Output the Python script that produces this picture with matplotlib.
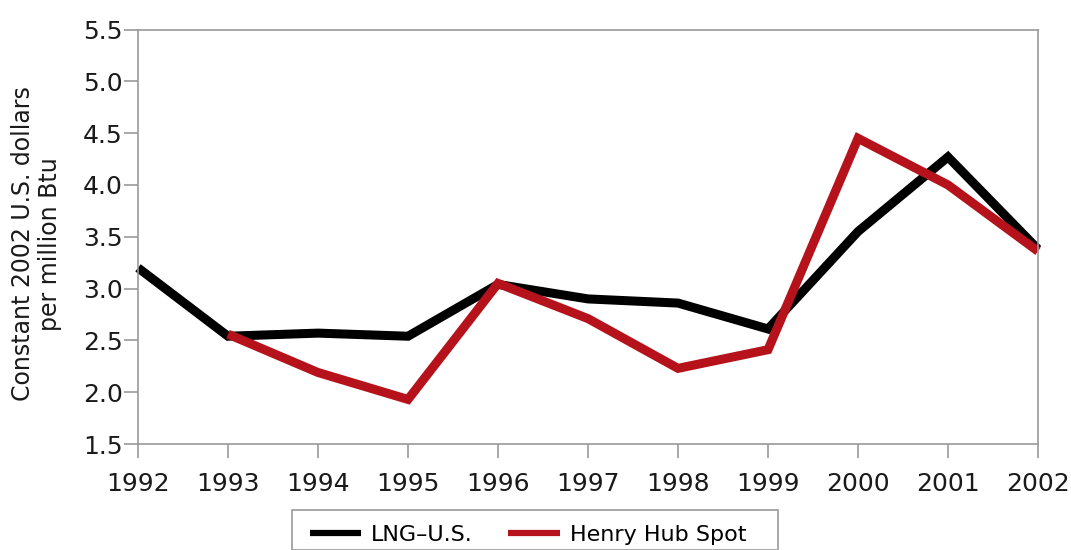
import matplotlib
matplotlib.use("Agg")
import matplotlib.pyplot as plt
from matplotlib.patches import Rectangle

years = [1992, 1993, 1994, 1995, 1996, 1997, 1998, 1999, 2000, 2001, 2002]
lng_us = [3.20, 2.54, 2.57, 2.54, 3.04, 2.90, 2.86, 2.61, 3.55, 4.27, 3.38]
hh_years = [1993, 1994, 1995, 1996, 1997, 1998, 1999, 2000, 2001, 2002]
henry_hub = [2.56, 2.19, 1.93, 3.05, 2.71, 2.23, 2.41, 4.45, 4.00, 3.36]
yticks = [1.5, 2.0, 2.5, 3.0, 3.5, 4.0, 4.5, 5.0, 5.5]

plt.rcParams['font.family'] = ['DejaVu Sans']

W, H = 1071, 550
fig = plt.figure(figsize=(W/100, H/100), dpi=100)
ax = fig.add_axes([138/W, 1 - 444/H, (1038-138)/W, (444-29.5)/H])

l1, = ax.plot(years, lng_us, color='black', lw=6.5, solid_joinstyle='miter',
              solid_capstyle='butt', label='LNG\u2013U.S.', clip_on=False)
l2, = ax.plot(hh_years, henry_hub, color='#B5121B', lw=6.5, solid_joinstyle='miter',
              solid_capstyle='butt', label='Henry Hub Spot', clip_on=False)

ax.set_xlim(1992, 2002)
ax.set_ylim(1.5, 5.5)
ax.set_xticks(years)
ax.set_xticklabels([str(y) for y in years])
ax.set_yticks(yticks)
ax.set_yticklabels([f"{v:.1f}" for v in yticks])
for s in ax.spines.values():
    s.set_color('#999999')
    s.set_linewidth(1.2)
ax.tick_params(axis='both', direction='out', length=10, width=1.2, color='#999999',
               labelsize=18, labelcolor='#1a1a1a')
ax.tick_params(axis='x', pad=10)
ax.tick_params(axis='y', pad=1)
ax.set_ylabel('Constant 2002 U.S. dollars\nper million Btu', fontsize=17, color='#1a1a1a',
              labelpad=15, linespacing=1.15)
ax.yaxis.label.set_y(0.483)

fig.patches.append(Rectangle((292/W, 0), (778-292)/W, 1 - 510/H, transform=fig.transFigure,
                             fill=False, edgecolor='#999999', linewidth=1.2, clip_on=False))
leg = fig.legend(handles=[l1, l2], loc='center left', bbox_to_anchor=(310/W, 1 - 535/H),
                 ncol=2, frameon=False, fontsize=16, handlelength=2.3, handletextpad=0.45,
                 columnspacing=1.6, borderpad=0, borderaxespad=0)
for line in leg.get_lines():
    line.set_linewidth(4.5)

fig.savefig('out.png', dpi=100)
